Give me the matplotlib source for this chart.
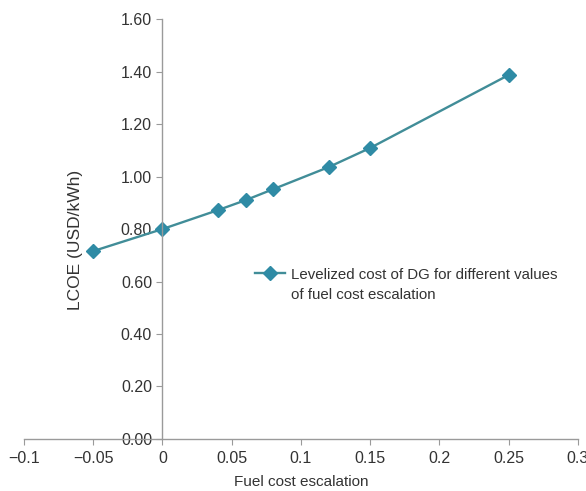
import matplotlib.pyplot as plt
from matplotlib.lines import Line2D

escalation = [-0.05, 0.0, 0.04, 0.06, 0.08, 0.12, 0.15, 0.25]
lcoe = [0.716, 0.80, 0.872, 0.91, 0.952, 1.036, 1.109, 1.387]
xticks = [-0.1, -0.05, 0, 0.05, 0.1, 0.15, 0.2, 0.25, 0.3]
xtick_labels = ['\u22120.1', '\u22120.05', '0', '0.05', '0.1', '0.15', '0.2', '0.25', '0.3']
yticks = [0.0, 0.2, 0.4, 0.6, 0.8, 1.0, 1.2, 1.4, 1.6]

plt.rcParams['font.family'] = ['Liberation Sans', 'DejaVu Sans']

fig = plt.figure(figsize=(5.86, 4.91), dpi=100)
ax = fig.add_axes([0.041, 0.106, 0.945, 0.855])

line, = ax.plot(escalation, lcoe, color='#418d98', linewidth=1.7, marker='D',
                markersize=7, markerfacecolor='#2f8ba5', markeredgecolor='#2f8ba5')

ax.set_xlim(-0.1, 0.3)
ax.set_ylim(0, 1.6)
ax.spines['left'].set_position(('data', 0))
ax.spines['bottom'].set_position(('data', 0))
ax.spines['top'].set_visible(False)
ax.spines['right'].set_visible(False)
for s in ['left', 'bottom']:
    ax.spines[s].set_color('#9a9a9a')
    ax.spines[s].set_linewidth(1.0)

ax.set_xticks(xticks)
ax.set_xticklabels(xtick_labels)
ax.set_yticks(yticks)
ax.set_yticklabels([f'{v:.2f}' for v in yticks])
ax.tick_params(axis='both', colors='#9a9a9a', labelcolor='#333333',
               labelsize=11.5, length=4, direction='out')
ax.tick_params(axis='x', pad=5)

ax.set_xlabel('Fuel cost escalation', fontsize=11, color='#333333')
ax.xaxis.set_label_coords(0.5, -0.085)
ax.set_ylabel('LCOE (USD/kWh)', fontsize=12.5, color='#333333')
ax.yaxis.set_label_coords(0.107, 0.474)

# two legend rows so the marker sits beside the first line of text
blank = Line2D([], [], alpha=0)
leg = ax.legend(handles=[line, blank],
                labels=['Levelized cost of DG for different values', 'of fuel cost escalation'],
                loc='upper left', bbox_to_anchor=(0.393, 0.44), frameon=False,
                fontsize=10.8, handlelength=2.0, handletextpad=0.4, labelspacing=0.4)
for t in leg.get_texts():
    t.set_color('#333333')

fig.savefig('out.png', dpi=100)
